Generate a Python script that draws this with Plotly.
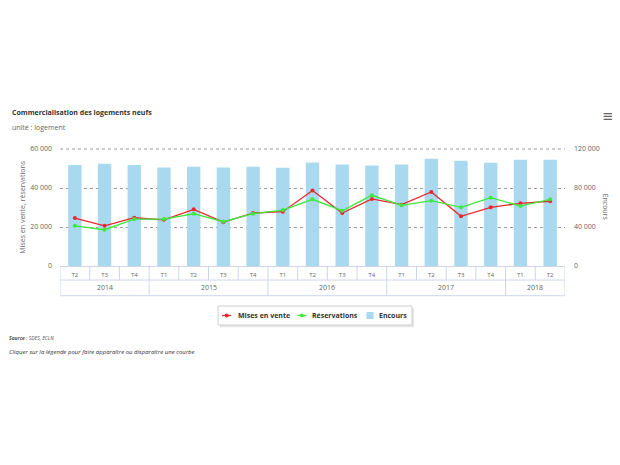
import plotly.graph_objects as go

# quarters from T2 2014 to T2 2018
years = ['2014'] * 3 + ['2015'] * 4 + ['2016'] * 4 + ['2017'] * 4 + ['2018'] * 2
quarters = ['T2', 'T3', 'T4',
            'T1', 'T2', 'T3', 'T4',
            'T1', 'T2', 'T3', 'T4',
            'T1', 'T2', 'T3', 'T4',
            'T1', 'T2']

mises_en_vente = [24600, 20600, 24750, 23700, 29050, 22500, 27150, 27850, 38700,
                  27150, 34400, 31450, 38000, 25450, 30100, 32150, 33200]
reservations = [20600, 18600, 24050, 24050, 26800, 22700, 26800, 28700, 34200,
                28350, 36250, 31100, 33500, 30100, 35050, 30750, 34200]
encours = [103500, 104900, 103500, 101100, 101800, 101100, 101800, 100700, 106200,
           104200, 103100, 104200, 110000, 108000, 105900, 109000, 109000]

FONT = 'Open Sans'
GREY = '#666666'
DARK = '#333333'
TABLE = '#ccd6eb'
RED = '#e8262c'
GREEN = '#3ee83e'
BLUE = '#a9d9ef'

idx = list(range(len(quarters)))
labels = [q + ' ' + y for q, y in zip(quarters, years)]

fig = go.Figure()

# bars sit on the base axis (right side) so the lines stay on top
fig.add_trace(go.Bar(x=idx, y=encours, name='Encours', customdata=labels,
                     marker=dict(color=BLUE, line=dict(width=0)), width=0.45, yaxis='y',
                     hovertemplate='%{customdata}<br>%{y:,}<extra>Encours</extra>'))
fig.add_trace(go.Scatter(x=idx, y=mises_en_vente, name='Mises en vente', customdata=labels,
                         mode='lines+markers', yaxis='y2',
                         line=dict(color=RED, width=1.3), marker=dict(color=RED, size=4),
                         hovertemplate='%{customdata}<br>%{y:,}<extra>Mises en vente</extra>'))
fig.add_trace(go.Scatter(x=idx, y=reservations, name='Réservations', customdata=labels,
                         mode='lines+markers', yaxis='y2',
                         line=dict(color=GREEN, width=1.3), marker=dict(color=GREEN, size=4),
                         hovertemplate='%{customdata}<br>%{y:,}<extra>Réservations</extra>'))

# the page adds an 8px body margin, so the figure is 8px smaller than the window
fig.update_layout(
    width=612, height=457,
    margin=dict(l=52, r=55, t=141, b=199),
    paper_bgcolor='white', plot_bgcolor='white',
    separators=', ',
    font=dict(family=FONT, size=7, color=GREY),
    showlegend=False,
    xaxis=dict(range=[-0.5, len(quarters) - 0.5], tickvals=idx, ticktext=quarters,
               showgrid=False, zeroline=False, showline=True, linecolor=TABLE,
               linewidth=1, ticks='', ticklabelstandoff=3,
               automargin=False, fixedrange=True,
               tickfont=dict(family=FONT, size=6, color=GREY)),
    yaxis=dict(side='right', range=[0, 120000], tickvals=[0, 40000, 80000, 120000],
               tickformat=',d', showgrid=True, gridcolor='#9a9a9a', griddash='dot',
               gridwidth=1, zeroline=False, showline=False, ticks='', ticklen=0,
               ticklabelstandoff=8, automargin=False, fixedrange=True,
               tickfont=dict(family=FONT, size=7, color=GREY)),
    yaxis2=dict(side='left', overlaying='y', range=[0, 60000],
                tickvals=[0, 20000, 40000, 60000], tickformat=',d',
                showgrid=False, zeroline=False, showline=False, ticks='', ticklen=0,
                ticklabelstandoff=7, automargin=False, fixedrange=True,
                tickfont=dict(family=FONT, size=7, color=GREY)),
)

# top gridline at the edge of the plot
fig.add_shape(type='line', xref='paper', yref='paper', x0=0, x1=1, y0=1, y1=1,
              line=dict(color='#9a9a9a', width=1, dash='dot'), layer='below')

# category table under the plot: quarter row and year row
ROW1, ROW2 = -0.12, -0.254
for yy in [ROW1, ROW2]:
    fig.add_shape(type='line', xref='paper', yref='paper', x0=0, x1=1, y0=yy, y1=yy,
                  line=dict(color=TABLE, width=1))
for i in range(len(quarters) + 1):
    year_edge = i == 0 or i == len(quarters) or years[i] != years[i - 1]
    fig.add_shape(type='line', xref='x', yref='paper', x0=i - 0.5, x1=i - 0.5,
                  y0=0, y1=ROW2 if year_edge else ROW1,
                  line=dict(color=TABLE, width=1))
for yr in dict.fromkeys(years):
    pos = [i for i in idx if years[i] == yr]
    fig.add_annotation(text=yr, xref='x', yref='paper', x=sum(pos) / len(pos),
                       y=(ROW1 + ROW2) / 2, xanchor='center', yanchor='middle',
                       showarrow=False, font=dict(family=FONT, size=7, color=GREY))

# axis titles
fig.add_annotation(text='Mises en vente, réservations', xref='paper', yref='paper',
                   x=-0.075, y=0.5, xanchor='center', yanchor='middle', textangle=-90,
                   showarrow=False, font=dict(family=FONT, size=7, color=GREY))
fig.add_annotation(text='Encours', xref='paper', yref='paper', x=1.081, y=0.5,
                   xanchor='center', yanchor='middle', textangle=90, showarrow=False,
                   font=dict(family=FONT, size=7, color=GREY))

# legend box drawn by hand (compact, with a soft shadow)
LX0, LX1, LY0, LY1 = 0.313, 0.697, -0.504, -0.342
fig.add_shape(type='rect', xref='paper', yref='paper', x0=LX0 + 0.004, x1=LX1 + 0.004,
              y0=LY0 - 0.02, y1=LY1 - 0.02, line=dict(width=0), fillcolor='#e6e6e6')
fig.add_shape(type='rect', xref='paper', yref='paper', x0=LX0, x1=LX1, y0=LY0, y1=LY1,
              line=dict(color='#d0d0d0', width=1), fillcolor='white')
LY = (LY0 + LY1) / 2
for color, x0, x1, tx, name in [(RED, 0.321, 0.339, 0.3485, 'Mises en vente'),
                                (GREEN, 0.470, 0.488, 0.495, 'Réservations')]:
    fig.add_shape(type='line', xref='paper', yref='paper', x0=x0, x1=x1, y0=LY, y1=LY,
                  line=dict(color=color, width=1.3))
    fig.add_shape(type='circle', xref='paper', yref='paper', x0=(x0 + x1) / 2 - 0.004,
                  x1=(x0 + x1) / 2 + 0.004, y0=LY - 0.017, y1=LY + 0.017,
                  line=dict(width=0), fillcolor=color)
    fig.add_annotation(text='<b>' + name + '</b>', xref='paper', yref='paper', x=tx, y=LY,
                       xanchor='left', yanchor='middle', showarrow=False,
                       font=dict(family=FONT, size=7, color=DARK))
fig.add_shape(type='rect', xref='paper', yref='paper', x0=0.607, x1=0.621,
              y0=LY - 0.03, y1=LY + 0.03, line=dict(width=0), fillcolor=BLUE)
fig.add_annotation(text='<b>Encours</b>', xref='paper', yref='paper', x=0.628, y=LY,
                   xanchor='left', yanchor='middle', showarrow=False,
                   font=dict(family=FONT, size=7, color=DARK))

# title, unit, menu icon
fig.add_annotation(text='<b>Commercialisation des logements neufs</b>', xref='paper',
                   yref='paper', x=-0.099, y=1.308, xanchor='left', yanchor='middle',
                   showarrow=False, font=dict(family=FONT, size=7, color=DARK))
fig.add_annotation(text='unité : logement', xref='paper', yref='paper', x=-0.099, y=1.188,
                   xanchor='left', yanchor='middle', showarrow=False,
                   font=dict(family=FONT, size=7, color=GREY))
fig.add_annotation(text='≡', xref='paper', yref='paper', x=1.087, y=1.282,
                   xanchor='center', yanchor='middle', showarrow=False,
                   font=dict(family='DejaVu Sans', size=15, color=GREY))

# source and note
fig.add_annotation(text='<i><b>Source</b> : SDES, ECLN</i>', xref='paper', yref='paper',
                   x=-0.105, y=-0.615, xanchor='left', yanchor='middle', showarrow=False,
                   font=dict(family=FONT, size=5, color='#555555'))
fig.add_annotation(text='<i>Cliquer sur la légende pour faire apparaître ou disparaître une courbe</i>',
                   xref='paper', yref='paper', x=-0.105, y=-0.735, xanchor='left',
                   yanchor='middle', showarrow=False,
                   font=dict(family=FONT, size=6, color=DARK))

fig.write_html('out.html')
